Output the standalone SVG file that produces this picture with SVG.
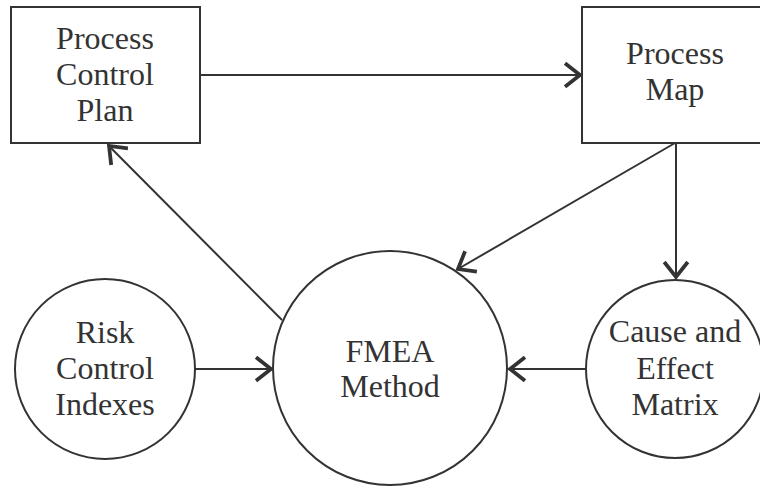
<svg xmlns="http://www.w3.org/2000/svg" width="760" height="486" viewBox="0 0 760 486">
<style>
.node{fill:#fff;stroke:#333;stroke-width:2}
.lbl{font-family:"Liberation Serif","Times New Roman",serif;font-size:32px;fill:#333;text-anchor:middle}
.edge{stroke:#333;stroke-width:2;fill:none}
</style>
<defs>
<marker id="ah" markerUnits="userSpaceOnUse" markerWidth="30" markerHeight="30" viewBox="-16 -14 20 28" refX="0" refY="0" orient="auto">
<path d="M-14,-11 L0,0 L-14,11" fill="none" stroke="#333" stroke-width="3.5"/>
</marker>
</defs>
<rect width="760" height="486" fill="#fff"/>
<g id="edges">
<line class="edge" x1="200" y1="75" x2="580" y2="75" marker-end="url(#ah)"/>
<line class="edge" x1="676" y1="143" x2="676" y2="277" marker-end="url(#ah)"/>
<line class="edge" x1="675" y1="143" x2="458" y2="269" marker-end="url(#ah)"/>
<line class="edge" x1="282" y1="320" x2="109" y2="146" marker-end="url(#ah)"/>
<line class="edge" x1="195" y1="369" x2="271" y2="369" marker-end="url(#ah)"/>
<line class="edge" x1="586" y1="369" x2="510" y2="369" marker-end="url(#ah)"/>
</g>
<g id="pcp">
<rect class="node" x="11" y="7" width="189" height="136"/>
<text class="lbl" x="105" y="49">Process</text>
<text class="lbl" x="105" y="85">Control</text>
<text class="lbl" x="105" y="121">Plan</text>
</g>
<g id="pmap">
<rect class="node" x="582" y="7" width="188" height="136"/>
<text class="lbl" x="675" y="64">Process</text>
<text class="lbl" x="675" y="100">Map</text>
</g>
<g id="risk">
<circle class="node" cx="105" cy="369" r="90"/>
<text class="lbl" x="105" y="343">Risk</text>
<text class="lbl" x="105" y="379">Control</text>
<text class="lbl" x="105" y="415">Indexes</text>
</g>
<g id="fmea">
<circle class="node" cx="390" cy="368" r="117"/>
<text class="lbl" x="390" y="362">FMEA</text>
<text class="lbl" x="390" y="397">Method</text>
</g>
<g id="cause">
<circle class="node" cx="675" cy="369" r="89"/>
<text class="lbl" x="675" y="342">Cause and</text>
<text class="lbl" x="675" y="379">Effect</text>
<text class="lbl" x="675" y="415">Matrix</text>
</g>
</svg>
